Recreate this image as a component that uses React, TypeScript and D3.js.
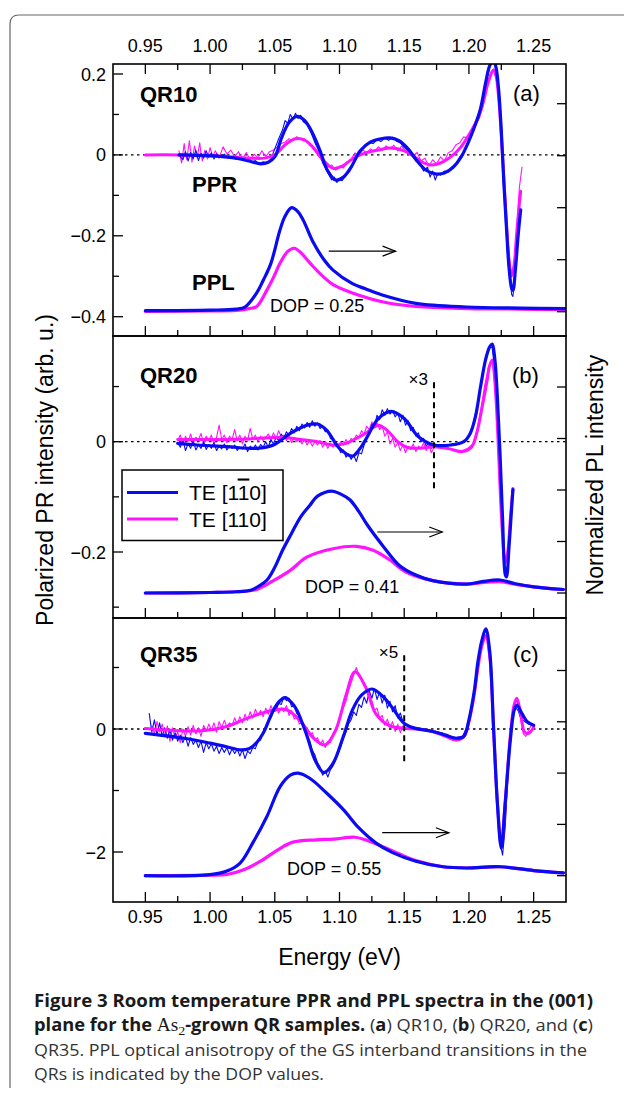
import React from "react";
import * as d3 from "d3";

type P = [number, number];

// ---------- axis ticks ----------
const X_MAJOR = [0.95, 1.0, 1.05, 1.1, 1.15, 1.2, 1.25];
const X_LABELS = ["0.95", "1.00", "1.05", "1.10", "1.15", "1.20", "1.25"];
const X_MINOR = [0.975, 1.025, 1.075, 1.125, 1.175, 1.225];

const A_MAJOR = [0.2, 0, -0.2, -0.4];
const A_LABELS = ["0.2", "0", "\u22120.2", "\u22120.4"];
const A_MINOR = [0.1, -0.1, -0.3];
const B_MAJOR = [0, -0.2];
const B_LABELS = ["0", "\u22120.2"];
const B_MINOR = [0.1, -0.1, -0.3];
const C_MAJOR = [0, -2];
const C_LABELS = ["0", "\u22122"];
const C_MINOR = [1, -1];
const PL_TICKS = [0, 0.5, 1, 1.5, 2];

// ---------- panel (a) QR10 ----------
const A_PPR_BLUE_RAW: P[] = [
  [0.976,0.000],[0.979,-0.012],[0.981,0.008],[0.983,-0.015],[0.985,0.006],[0.987,-0.010],[0.989,0.012],[0.991,-0.014],
  [0.993,0.004],[0.995,-0.008],[0.997,0.010],[0.999,-0.006],[1.001,0.005],[1.003,-0.010],[1.005,0.003],[1.008,-0.006],
  [1.011,0.002],[1.014,-0.008],[1.017,-0.003],[1.020,-0.011],[1.023,-0.006],[1.026,-0.013],[1.029,-0.010],[1.032,-0.018],
  [1.035,-0.014],[1.038,-0.022],[1.041,-0.017],[1.044,-0.020],[1.047,-0.010],[1.050,0.015],[1.053,0.040],[1.056,0.062],
  [1.058,0.085],[1.060,0.078],[1.062,0.100],[1.064,0.088],[1.066,0.103],[1.068,0.090],[1.070,0.098],[1.072,0.082],
  [1.075,0.075],[1.078,0.055],[1.081,0.030],[1.084,0.010],[1.087,-0.020],[1.090,-0.038],[1.092,-0.050],[1.094,-0.062],
  [1.096,-0.055],[1.098,-0.068],[1.100,-0.060],[1.102,-0.064],[1.105,-0.050],[1.108,-0.040],[1.111,-0.020],[1.114,-0.005],
  [1.117,0.012],[1.120,0.020],[1.123,0.030],[1.126,0.028],[1.129,0.038],[1.132,0.033],[1.135,0.042],[1.138,0.036],
  [1.141,0.044],[1.144,0.034],[1.147,0.030],[1.150,0.018],[1.153,0.010],[1.156,-0.002],[1.159,-0.015],[1.162,-0.022],
  [1.165,-0.040],[1.168,-0.030],[1.170,-0.055],[1.172,-0.040],[1.174,-0.062],[1.176,-0.045],[1.178,-0.050],[1.181,-0.040],
  [1.184,-0.042],[1.187,-0.030],[1.190,-0.022],[1.193,-0.005],[1.196,0.008],[1.199,0.028],[1.202,0.048],[1.205,0.072],
  [1.208,0.095],[1.211,0.130],[1.214,0.190],[1.217,0.228],[1.219,0.232],[1.221,0.210],[1.223,0.160],[1.225,0.070],
  [1.227,-0.040],[1.229,-0.160],[1.231,-0.270],[1.233,-0.345],[1.234,-0.350],[1.236,-0.280],[1.238,-0.200],[1.240,-0.140],
];
const A_PPR_PINK_RAW: P[] = [
  [0.976,0.010],[0.978,-0.020],[0.980,0.028],[0.981,0.002],[0.982,-0.012],[0.984,0.035],[0.985,0.010],[0.986,-0.018],[0.988,0.022],[0.990,-0.008],
  [0.992,0.030],[0.993,0.004],[0.994,-0.015],[0.996,0.012],[0.998,-0.010],[1.000,0.018],[1.002,-0.004],[1.004,0.010],[1.007,-0.008],
  [1.010,0.020],[1.013,0.002],[1.016,0.012],[1.019,-0.005],[1.022,0.008],[1.025,-0.010],[1.028,0.006],[1.031,-0.012],
  [1.034,0.002],[1.037,-0.008],[1.040,0.010],[1.043,-0.004],[1.046,0.008],[1.049,0.012],[1.052,0.020],[1.055,0.028],
  [1.058,0.032],[1.061,0.040],[1.064,0.035],[1.067,0.045],[1.070,0.038],[1.073,0.040],[1.076,0.028],[1.079,0.018],
  [1.082,0.005],[1.085,-0.008],[1.088,-0.020],[1.091,-0.030],[1.094,-0.025],[1.097,-0.038],[1.100,-0.030],[1.103,-0.032],
  [1.106,-0.018],[1.109,-0.010],[1.112,0.005],[1.115,-0.002],[1.118,0.012],[1.121,0.005],[1.124,0.015],[1.127,0.008],
  [1.130,0.020],[1.133,0.012],[1.136,0.022],[1.139,0.015],[1.142,0.024],[1.145,0.010],[1.148,0.022],[1.151,0.008],
  [1.154,0.015],[1.157,-0.002],[1.160,0.006],[1.163,-0.015],[1.166,-0.008],[1.169,-0.028],[1.172,-0.012],[1.175,-0.022],
  [1.178,-0.005],[1.181,-0.015],[1.184,0.005],[1.187,0.010],[1.190,0.025],[1.193,0.030],[1.196,0.045],[1.199,0.040],
  [1.202,0.062],[1.205,0.075],[1.208,0.090],[1.211,0.120],[1.214,0.170],[1.217,0.205],[1.219,0.212],[1.221,0.190],
  [1.223,0.140],[1.225,0.060],[1.227,-0.050],[1.229,-0.160],[1.231,-0.250],[1.233,-0.300],[1.235,-0.270],[1.237,-0.180],
  [1.239,-0.080],[1.241,-0.030],
];
const A_PPR_BLUE_FIT: P[] = [
  [0.976,0],[0.99,-0.001],[1.005,-0.003],[1.02,-0.008],[1.03,-0.015],[1.039,-0.022],[1.045,-0.018],[1.05,-0.005],
  [1.055,0.04],[1.061,0.08],[1.067,0.095],[1.073,0.085],[1.079,0.055],[1.085,0.01],[1.091,-0.04],[1.097,-0.062],
  [1.103,-0.055],[1.109,-0.03],[1.116,0.01],[1.124,0.032],[1.132,0.04],[1.139,0.042],[1.146,0.035],[1.153,0.015],
  [1.16,-0.015],[1.167,-0.038],[1.174,-0.047],[1.181,-0.045],[1.188,-0.03],[1.194,-0.005],[1.2,0.035],[1.205,0.075],
  [1.209,0.115],[1.213,0.18],[1.216,0.22],[1.219,0.235],[1.221,0.215],[1.223,0.16],[1.225,0.06],[1.227,-0.07],
  [1.229,-0.18],[1.231,-0.28],[1.233,-0.33],[1.234,-0.335],[1.236,-0.28],[1.238,-0.2],[1.24,-0.136],
];
const A_PPR_PINK_FIT: P[] = [
  [0.95,0],[0.976,0],[0.99,-0.001],[1.01,-0.004],[1.03,-0.008],[1.042,-0.008],[1.05,0.0],[1.058,0.025],[1.066,0.04],
  [1.074,0.035],[1.082,0.01],[1.088,-0.015],[1.095,-0.033],[1.102,-0.028],[1.11,-0.01],[1.12,0.005],[1.13,0.012],
  [1.14,0.017],[1.15,0.01],[1.158,-0.005],[1.165,-0.02],[1.171,-0.025],[1.178,-0.02],[1.186,-0.005],[1.194,0.02],
  [1.2,0.05],[1.206,0.085],[1.211,0.13],[1.215,0.18],[1.219,0.21],[1.221,0.195],[1.223,0.14],[1.225,0.05],
  [1.227,-0.06],[1.229,-0.17],[1.231,-0.26],[1.233,-0.3],[1.235,-0.27],[1.237,-0.19],[1.239,-0.12],[1.24,-0.09],
];
const A_PL_BLUE: P[] = [
  [0.95,0.01],[1.0,0.015],[1.02,0.025],[1.027,0.045],[1.036,0.18],[1.041,0.3],[1.047,0.465],[1.054,0.785],
  [1.058,0.92],[1.063,1.0],[1.068,0.96],[1.072,0.88],[1.08,0.66],[1.088,0.5],[1.095,0.4],[1.11,0.27],[1.12,0.22],
  [1.133,0.16],[1.159,0.08],[1.198,0.045],[1.24,0.035],[1.275,0.03],
];
const A_PL_PINK: P[] = [
  [0.95,0.004],[1.0,0.008],[1.02,0.012],[1.03,0.03],[1.036,0.05],[1.044,0.21],[1.049,0.33],[1.054,0.465],
  [1.06,0.58],[1.065,0.61],[1.07,0.57],[1.075,0.5],[1.08,0.43],[1.088,0.33],[1.095,0.26],[1.11,0.18],
  [1.133,0.096],[1.159,0.05],[1.2,0.03],[1.24,0.025],[1.275,0.02],
];

// ---------- panel (b) QR20 ----------
const B_PPR_BLUE_RAW: P[] = [
  [0.975,-0.002],[0.977,-0.010],[0.979,0.004],[0.981,-0.016],[0.983,-0.004],[0.985,-0.012],[0.987,0.002],[0.989,-0.015],
  [0.991,-0.006],[0.993,-0.012],[0.995,0.000],[0.997,-0.014],[0.999,-0.005],[1.001,-0.012],[1.003,-0.002],[1.005,-0.016],
  [1.007,-0.008],[1.009,-0.013],[1.011,-0.004],[1.013,-0.015],[1.015,-0.008],[1.017,-0.012],[1.019,-0.006],[1.021,-0.016],
  [1.023,-0.010],[1.025,-0.013],[1.027,-0.004],[1.029,-0.018],[1.031,-0.008],[1.033,-0.014],[1.035,-0.006],[1.037,-0.015],
  [1.039,-0.005],[1.041,-0.010],[1.043,0.000],[1.045,-0.010],[1.047,0.004],[1.049,-0.004],[1.051,0.008],[1.053,0.002],
  [1.055,0.014],[1.057,0.006],[1.059,0.018],[1.061,0.012],[1.063,0.024],[1.065,0.016],[1.067,0.028],[1.069,0.020],
  [1.071,0.032],[1.073,0.025],[1.075,0.035],[1.077,0.026],[1.079,0.038],[1.081,0.028],[1.083,0.034],[1.085,0.024],
  [1.087,0.028],[1.089,0.018],[1.091,0.020],[1.093,0.006],[1.095,0.004],[1.097,-0.008],[1.099,-0.010],[1.101,-0.020],
  [1.103,-0.015],[1.105,-0.028],[1.107,-0.022],[1.109,-0.032],[1.111,-0.024],[1.113,-0.036],[1.115,-0.020],[1.117,-0.022],
  [1.119,-0.006],[1.121,0.005],[1.123,0.015],[1.125,0.032],[1.127,0.028],[1.129,0.048],[1.131,0.040],[1.133,0.058],
  [1.135,0.048],[1.137,0.060],[1.139,0.050],[1.141,0.056],[1.143,0.045],[1.145,0.052],[1.147,0.036],[1.149,0.048],
  [1.151,0.030],[1.153,0.038],[1.155,0.020],[1.157,0.026],[1.159,0.010],[1.161,0.016],[1.163,0.000],[1.165,0.006],
  [1.167,-0.008],[1.169,-0.002],[1.171,-0.012],[1.173,-0.004],[1.176,-0.006],[1.180,-0.008],[1.185,-0.007],[1.190,-0.006],
  [1.195,-0.002],[1.199,0.006],[1.203,0.030],[1.207,0.072],[1.210,0.118],[1.213,0.155],[1.216,0.172],[1.218,0.170],
  [1.220,0.130],[1.222,0.060],[1.224,-0.050],[1.226,-0.150],[1.228,-0.235],[1.230,-0.225],[1.232,-0.160],[1.234,-0.090],
];
const B_PPR_PINK_RAW: P[] = [
  [0.975,0.002],[0.977,0.012],[0.979,-0.006],[0.981,0.010],[0.983,0.000],[0.985,0.014],[0.987,-0.002],[0.989,0.008],
  [0.991,0.004],[0.993,0.015],[0.995,-0.004],[0.997,0.010],[0.999,0.002],[1.001,0.012],[1.003,-0.004],[1.005,0.008],
  [1.007,0.030],[1.009,0.004],[1.011,0.012],[1.013,-0.002],[1.015,0.010],[1.017,0.004],[1.019,0.022],[1.021,0.002],
  [1.023,0.012],[1.025,-0.004],[1.027,0.010],[1.029,0.003],[1.031,0.024],[1.033,0.004],[1.035,0.012],[1.037,0.000],
  [1.039,0.010],[1.041,0.002],[1.043,0.008],[1.045,0.014],[1.047,0.004],[1.049,0.016],[1.051,0.006],[1.053,0.020],
  [1.055,0.008],[1.057,0.012],[1.059,0.002],[1.061,0.010],[1.063,-0.002],[1.065,0.008],[1.067,0.000],[1.069,0.006],
  [1.071,-0.004],[1.073,0.004],[1.075,-0.006],[1.077,0.002],[1.079,-0.008],[1.081,0.000],[1.083,-0.006],[1.085,0.002],
  [1.087,-0.010],[1.089,-0.002],[1.091,-0.012],[1.093,-0.004],[1.095,-0.010],[1.097,-0.002],[1.099,-0.008],[1.101,0.000],
  [1.103,-0.006],[1.105,0.004],[1.107,-0.004],[1.109,0.006],[1.111,0.002],[1.113,0.012],[1.115,0.008],[1.117,0.020],
  [1.119,0.014],[1.121,0.028],[1.123,0.022],[1.125,0.036],[1.127,0.026],[1.129,0.034],[1.131,0.022],[1.133,0.028],
  [1.135,0.010],[1.137,0.018],[1.139,-0.004],[1.141,0.006],[1.143,-0.010],[1.145,-0.002],[1.147,-0.016],[1.149,-0.006],
  [1.151,-0.020],[1.153,-0.008],[1.155,-0.014],[1.157,-0.004],[1.159,-0.018],[1.161,-0.008],[1.163,-0.012],[1.165,-0.002],
  [1.167,-0.016],[1.169,-0.006],[1.171,-0.020],[1.173,-0.010],[1.177,-0.008],[1.181,-0.010],[1.186,-0.014],[1.190,-0.016],
  [1.195,-0.016],[1.199,-0.012],[1.203,-0.004],[1.206,0.020],[1.209,0.055],[1.212,0.100],[1.215,0.135],[1.218,0.148],
  [1.220,0.110],[1.222,0.030],[1.224,-0.080],[1.226,-0.170],[1.228,-0.220],[1.230,-0.200],[1.232,-0.140],[1.234,-0.085],
];
const B_PPR_BLUE_FIT: P[] = [
  [0.975,-0.003],[0.99,-0.006],[1.013,-0.009],[1.036,-0.012],[1.049,-0.006],[1.062,0.015],[1.075,0.03],[1.083,0.032],
  [1.09,0.021],[1.1,-0.012],[1.11,-0.026],[1.115,-0.015],[1.12,0.003],[1.13,0.042],[1.14,0.055],[1.15,0.042],
  [1.161,0.009],[1.173,-0.006],[1.186,-0.006],[1.196,0.0],[1.201,0.015],[1.205,0.045],[1.209,0.1],[1.213,0.15],
  [1.216,0.172],[1.218,0.177],[1.22,0.15],[1.222,0.08],[1.224,-0.02],[1.226,-0.14],[1.228,-0.24],[1.229,-0.245],
  [1.231,-0.19],[1.233,-0.12],[1.234,-0.087],
];
const B_PPR_PINK_FIT: P[] = [
  [0.975,0.004],[1.0,0.004],[1.03,0.005],[1.056,0.008],[1.07,0.004],[1.083,0.0],[1.095,-0.006],[1.105,-0.003],
  [1.113,0.006],[1.12,0.015],[1.13,0.03],[1.137,0.02],[1.145,0.0],[1.152,-0.01],[1.162,-0.012],[1.173,-0.009],
  [1.185,-0.013],[1.195,-0.018],[1.202,-0.01],[1.206,0.015],[1.21,0.06],[1.214,0.11],[1.216,0.138],[1.218,0.148],
  [1.22,0.11],[1.222,0.03],[1.224,-0.08],[1.226,-0.17],[1.228,-0.22],[1.23,-0.2],[1.232,-0.14],[1.234,-0.085],
];
const B_PL_BLUE: P[] = [
  [0.95,0],[1.0,0.005],[1.02,0.012],[1.032,0.03],[1.038,0.07],[1.044,0.126],[1.05,0.25],[1.056,0.415],[1.063,0.58],
  [1.07,0.74],[1.077,0.85],[1.083,0.94],[1.094,0.99],[1.101,0.96],[1.108,0.905],[1.115,0.79],[1.121,0.67],[1.134,0.45],
  [1.146,0.27],[1.159,0.174],[1.172,0.12],[1.198,0.087],[1.21,0.11],[1.224,0.126],[1.236,0.09],[1.25,0.06],[1.273,0.034],
];
const B_PL_PINK: P[] = [
  [0.95,0],[1.0,0.005],[1.02,0.012],[1.036,0.034],[1.049,0.12],[1.062,0.22],[1.075,0.35],[1.095,0.43],[1.113,0.453],
  [1.126,0.415],[1.139,0.32],[1.151,0.206],[1.172,0.12],[1.198,0.087],[1.21,0.1],[1.224,0.11],[1.236,0.085],
  [1.25,0.06],[1.273,0.034],
];

// ---------- panel (c) QR35 ----------
const C_PPR_BLUE_RAW: P[] = [
  [0.953,0.25],[0.955,-0.05],[0.957,0.15],[0.959,-0.10],[0.961,0.10],[0.963,-0.12],[0.965,0.02],[0.967,-0.15],
  [0.969,-0.02],[0.971,-0.18],[0.973,-0.06],[0.975,-0.20],[0.977,-0.10],[0.979,-0.22],[0.981,-0.12],[0.983,-0.28],
  [0.985,-0.14],[0.987,-0.25],[0.989,-0.18],[0.991,-0.30],[0.993,-0.20],[0.995,-0.38],[0.997,-0.22],[0.999,-0.32],
  [1.001,-0.24],[1.003,-0.36],[1.005,-0.28],[1.007,-0.40],[1.009,-0.30],[1.011,-0.38],[1.013,-0.30],[1.015,-0.42],
  [1.017,-0.32],[1.019,-0.40],[1.021,-0.33],[1.023,-0.44],[1.025,-0.34],[1.027,-0.48],[1.029,-0.36],[1.031,-0.40],
  [1.033,-0.30],[1.035,-0.32],[1.037,-0.20],[1.039,-0.18],[1.041,-0.05],[1.043,0.00],[1.045,0.12],[1.047,0.18],
  [1.049,0.28],[1.051,0.30],[1.053,0.42],[1.055,0.40],[1.057,0.52],[1.059,0.46],[1.061,0.50],[1.063,0.36],
  [1.065,0.38],[1.067,0.25],[1.069,0.22],[1.071,0.08],[1.073,0.02],[1.075,-0.12],[1.077,-0.20],[1.079,-0.35],
  [1.081,-0.42],[1.083,-0.55],[1.085,-0.62],[1.087,-0.75],[1.089,-0.68],[1.091,-0.78],[1.093,-0.66],[1.095,-0.60],
  [1.097,-0.50],[1.099,-0.40],[1.101,-0.28],[1.103,-0.15],[1.105,-0.05],[1.107,0.08],[1.109,0.15],[1.111,0.28],
  [1.113,0.22],[1.115,0.40],[1.117,0.35],[1.119,0.52],[1.121,0.42],[1.123,0.62],[1.125,0.50],[1.127,0.66],
  [1.129,0.48],[1.131,0.60],[1.133,0.42],[1.135,0.55],[1.137,0.34],[1.139,0.45],[1.141,0.28],[1.143,0.38],
  [1.145,0.18],[1.147,0.26],[1.149,0.12],[1.150,0.10],[1.155,0.04],[1.160,0.02],[1.165,0.00],[1.170,-0.02],
  [1.175,-0.04],[1.180,-0.07],[1.185,-0.12],[1.190,-0.14],[1.195,-0.12],[1.200,0.10],[1.203,0.40],[1.206,0.85],
  [1.209,1.35],[1.212,1.60],[1.214,1.55],[1.216,1.20],[1.218,0.50],[1.220,-0.40],[1.222,-1.20],[1.224,-1.85],
  [1.226,-2.05],[1.228,-1.60],[1.230,-0.80],[1.232,-0.20],[1.234,0.20],[1.236,0.35],[1.238,0.30],[1.240,0.18],
  [1.243,0.12],[1.246,0.08],[1.250,0.05],
];
const C_PPR_PINK_RAW: P[] = [
  [0.955,0.05],[0.957,-0.08],[0.959,0.12],[0.961,-0.05],[0.963,0.08],[0.965,-0.12],[0.967,0.05],[0.969,-0.20],
  [0.971,0.02],[0.973,-0.15],[0.975,-0.05],[0.977,-0.22],[0.979,0.00],[0.981,-0.12],[0.983,0.04],[0.985,-0.10],
  [0.987,0.06],[0.989,-0.08],[0.991,0.02],[0.993,-0.12],[0.995,0.06],[0.997,-0.04],[0.999,0.08],[1.001,-0.02],
  [1.003,0.10],[1.005,-0.05],[1.007,0.12],[1.009,0.02],[1.011,0.14],[1.013,0.04],[1.015,0.10],[1.017,0.06],
  [1.019,0.18],[1.021,0.08],[1.023,0.20],[1.025,0.10],[1.027,0.24],[1.029,0.14],[1.031,0.28],[1.033,0.18],
  [1.035,0.32],[1.037,0.22],[1.039,0.30],[1.041,0.20],[1.043,0.34],[1.045,0.24],[1.047,0.38],[1.049,0.28],
  [1.051,0.36],[1.053,0.26],[1.055,0.34],[1.057,0.28],[1.059,0.38],[1.061,0.22],[1.063,0.30],[1.065,0.16],
  [1.067,0.20],[1.069,0.08],[1.071,0.12],[1.073,-0.02],[1.075,0.02],[1.077,-0.10],[1.079,-0.06],[1.081,-0.18],
  [1.083,-0.14],[1.085,-0.26],[1.087,-0.18],[1.089,-0.30],[1.091,-0.20],[1.093,-0.22],[1.095,-0.10],[1.097,-0.04],
  [1.099,0.10],[1.101,0.20],[1.103,0.35],[1.105,0.45],[1.107,0.62],[1.109,0.75],[1.111,0.88],[1.113,1.00],
  [1.115,0.86],[1.117,0.82],[1.119,0.70],[1.121,0.66],[1.123,0.50],[1.125,0.46],[1.127,0.30],[1.129,0.34],
  [1.131,0.18],[1.133,0.22],[1.135,0.06],[1.137,0.16],[1.139,0.02],[1.141,0.12],[1.143,-0.04],[1.145,0.08],
  [1.147,-0.06],[1.149,0.05],[1.150,0.00],[1.155,0.02],[1.160,0.00],[1.165,-0.02],[1.170,-0.03],[1.175,-0.05],
  [1.180,-0.10],[1.185,-0.16],[1.190,-0.18],[1.195,-0.14],[1.200,0.08],[1.203,0.38],[1.206,0.80],[1.209,1.25],
  [1.212,1.50],[1.214,1.45],[1.216,1.10],[1.218,0.40],[1.220,-0.45],[1.222,-1.20],[1.224,-1.80],[1.226,-1.90],
  [1.228,-1.50],[1.230,-0.75],[1.232,-0.10],[1.234,0.30],[1.236,0.48],[1.238,0.40],[1.240,0.15],[1.242,-0.08],
  [1.244,-0.12],[1.246,-0.02],[1.248,0.05],
];
const C_PPR_BLUE_FIT: P[] = [
  [0.95,-0.07],[0.98,-0.15],[1.0,-0.23],[1.015,-0.3],[1.023,-0.34],[1.03,-0.32],[1.036,-0.22],[1.041,-0.07],
  [1.049,0.31],[1.054,0.46],[1.058,0.51],[1.063,0.43],[1.067,0.31],[1.075,-0.12],[1.081,-0.5],[1.088,-0.71],
  [1.095,-0.56],[1.103,-0.12],[1.11,0.31],[1.117,0.55],[1.125,0.65],[1.134,0.52],[1.141,0.34],[1.15,0.09],
  [1.159,0.01],[1.172,-0.04],[1.182,-0.1],[1.19,-0.15],[1.196,-0.12],[1.2,0.15],[1.204,0.6],[1.207,1.1],
  [1.21,1.44],[1.213,1.63],[1.216,1.28],[1.219,0.04],[1.222,-1.21],[1.225,-1.94],[1.228,-1.21],[1.232,-0.18],
  [1.235,0.31],[1.237,0.39],[1.241,0.25],[1.245,0.12],[1.25,0.06],
];
const C_PPR_PINK_FIT: P[] = [
  [0.95,0.01],[0.993,-0.03],[1.013,0.04],[1.028,0.17],[1.044,0.28],[1.058,0.32],[1.069,0.15],[1.08,-0.15],
  [1.089,-0.26],[1.097,-0.02],[1.105,0.55],[1.112,0.93],[1.12,0.69],[1.128,0.25],[1.138,0.06],[1.15,0.01],
  [1.159,0.0],[1.172,-0.04],[1.182,-0.12],[1.19,-0.18],[1.196,-0.13],[1.2,0.12],[1.204,0.55],[1.207,1.0],
  [1.21,1.35],[1.213,1.52],[1.216,1.2],[1.219,0.0],[1.222,-1.2],[1.225,-1.9],[1.228,-1.2],[1.232,-0.1],
  [1.235,0.4],[1.237,0.5],[1.24,0.25],[1.243,-0.05],[1.246,-0.07],[1.25,0.03],
];
const C_PL_BLUE: P[] = [
  [0.95,0],[1.0,0.01],[1.013,0.045],[1.023,0.12],[1.033,0.32],[1.044,0.58],[1.054,0.866],[1.062,0.98],[1.068,1.0],
  [1.077,0.95],[1.09,0.806],[1.103,0.644],[1.115,0.465],[1.128,0.32],[1.141,0.225],[1.159,0.141],[1.18,0.087],
  [1.198,0.075],[1.224,0.087],[1.25,0.05],[1.273,0.027],
];
const C_PL_PINK: P[] = [
  [0.95,0],[1.0,0.005],[1.013,0.012],[1.026,0.058],[1.039,0.141],[1.052,0.25],[1.064,0.327],[1.082,0.35],
  [1.095,0.356],[1.112,0.375],[1.12,0.35],[1.134,0.28],[1.146,0.213],[1.159,0.147],[1.18,0.087],[1.198,0.075],
  [1.224,0.087],[1.25,0.05],[1.273,0.027],
];

const BLUE = "#0b0bf2";
const PINK = "#ff14ff";
const FONT = "'Liberation Sans', Arial, Helvetica, sans-serif";

const X0 = 113, X1 = 566;
const x = d3.scaleLinear().domain([0.925, 1.275]).range([X0, X1]);

type PanelDef = {
  top: number; bottom: number;
  y: d3.ScaleLinear<number, number>; pl: d3.ScaleLinear<number, number>;
  major: number[]; labels: string[]; minor: number[];
  blueRaw: P[]; pinkRaw: P[]; blueFit: P[]; pinkFit: P[]; plBlue: P[]; plPink: P[];
  name: string; tag: string; dop: string;
  arrow: [number, number, number];
  scaleMark?: [string, number, number, number];
};

const panels: PanelDef[] = [
  {
    top: 64, bottom: 336,
    y: d3.scaleLinear().domain([0.2, -0.4]).range([74, 316.7]),
    pl: d3.scaleLinear().domain([0, 1]).range([311.7, 207.7]),
    major: A_MAJOR, labels: A_LABELS, minor: A_MINOR,
    blueRaw: A_PPR_BLUE_RAW, pinkRaw: A_PPR_PINK_RAW, blueFit: A_PPR_BLUE_FIT, pinkFit: A_PPR_PINK_FIT,
    plBlue: A_PL_BLUE, plPink: A_PL_PINK, name: "QR10", tag: "(a)", dop: "DOP = 0.25",
    arrow: [1.0917, 1.1433, -0.238],
  },
  {
    top: 336, bottom: 618,
    y: d3.scaleLinear().domain([0, -0.2]).range([441.7, 552]),
    pl: d3.scaleLinear().domain([0, 1]).range([593, 490]),
    major: B_MAJOR, labels: B_LABELS, minor: B_MINOR,
    blueRaw: B_PPR_BLUE_RAW, pinkRaw: B_PPR_PINK_RAW, blueFit: B_PPR_BLUE_FIT, pinkFit: B_PPR_PINK_FIT,
    plBlue: B_PL_BLUE, plPink: B_PL_PINK, name: "QR20", tag: "(b)", dop: "DOP = 0.41",
    arrow: [1.1292, 1.1794, -0.1637],
    scaleMark: ["\u00d73", 1.173, 0.108, -0.087],
  },
  {
    top: 618, bottom: 902,
    y: d3.scaleLinear().domain([0, -2]).range([729, 852]),
    pl: d3.scaleLinear().domain([0, 1]).range([875.7, 773.1]),
    major: C_MAJOR, labels: C_LABELS, minor: C_MINOR,
    blueRaw: C_PPR_BLUE_RAW, pinkRaw: C_PPR_PINK_RAW, blueFit: C_PPR_BLUE_FIT, pinkFit: C_PPR_PINK_FIT,
    plBlue: C_PL_BLUE, plPink: C_PL_PINK, name: "QR35", tag: "(c)", dop: "DOP = 0.55",
    arrow: [1.133, 1.1845, -1.686],
    scaleMark: ["\u00d75", 1.15, 1.2, -0.55],
  },
];

const TEXT_POS = [
  { name: [140, 102], tag: [513, 101], dop: [270, 312], extra: true },
  { name: [140, 383], tag: [512, 383], dop: [305, 593], extra: false },
  { name: [140, 662], tag: [513, 662], dop: [287, 875], extra: false },
];

function Panel({ p, i }: { p: PanelDef; i: number }) {
  const thin = d3.line<P>().x((d) => x(d[0])).y((d) => p.y(d[1]));
  const fit = d3.line<P>().x((d) => x(d[0])).y((d) => p.y(d[1])).curve(d3.curveCatmullRom.alpha(0.5));
  const plLine = d3.line<P>().x((d) => x(d[0])).y((d) => p.pl(d[1])).curve(d3.curveCatmullRom.alpha(0.5));
  const tp = TEXT_POS[i];
  const [a0, a1, av] = p.arrow;
  const ay = p.y(av);
  const clipId = `clip${i}`;
  return (
    <g>
      <defs>
        <clipPath id={clipId}>
          <rect x={X0} y={p.top} width={X1 - X0} height={p.bottom - p.top} />
        </clipPath>
      </defs>
      <line x1={X0} x2={X1} y1={p.y(0)} y2={p.y(0)} stroke="#000" strokeWidth={1.3} strokeDasharray="2.5,3.5" />
      <g clipPath={`url(#${clipId})`} fill="none" strokeLinejoin="round" strokeLinecap="round">
        <path d={plLine(p.plPink) || ""} stroke={PINK} strokeWidth={3.2} />
        <path d={plLine(p.plBlue) || ""} stroke={BLUE} strokeWidth={3.2} />
        <path d={thin(p.pinkRaw) || ""} stroke={PINK} strokeWidth={1.1} />
        <path d={thin(p.blueRaw) || ""} stroke={BLUE} strokeWidth={1.1} />
        <path d={fit(p.pinkFit) || ""} stroke={PINK} strokeWidth={3} />
        <path d={fit(p.blueFit) || ""} stroke={BLUE} strokeWidth={3.2} />
      </g>
      <rect x={X0} y={p.top} width={X1 - X0} height={p.bottom - p.top} fill="none" stroke="#000" strokeWidth={1.6} />
      {p.major.map((v, k) => (
        <g key={"lm" + k}>
          <line x1={X0} x2={X0 + 10} y1={p.y(v)} y2={p.y(v)} stroke="#000" strokeWidth={1.3} />
          <text x={X0 - 7} y={p.y(v) + 6.5} textAnchor="end" fontSize={18} fontFamily={FONT}>{p.labels[k]}</text>
        </g>
      ))}
      {p.minor.map((v, k) => (
        <line key={"ln" + k} x1={X0} x2={X0 + 6} y1={p.y(v)} y2={p.y(v)} stroke="#000" strokeWidth={1.3} />
      ))}
      {PL_TICKS.filter((v) => p.pl(v) > p.top + 2 && p.pl(v) < p.bottom - 2).map((v, k) => (
        <line key={"r" + k} x1={X1} x2={X1 - 9} y1={p.pl(v)} y2={p.pl(v)} stroke="#000" strokeWidth={1.3} />
      ))}
      {X_MAJOR.map((v, k) => (
        <line key={"bm" + k} x1={x(v)} x2={x(v)} y1={p.bottom} y2={p.bottom - 10} stroke="#000" strokeWidth={1.3} />
      ))}
      {X_MINOR.map((v, k) => (
        <line key={"bn" + k} x1={x(v)} x2={x(v)} y1={p.bottom} y2={p.bottom - 6} stroke="#000" strokeWidth={1.3} />
      ))}
      <g stroke="#000" strokeWidth={1.2} fill="none">
        <line x1={x(a0)} x2={x(a1)} y1={ay} y2={ay} />
        <polyline points={`${x(a1) - 13},${ay - 5} ${x(a1)},${ay} ${x(a1) - 13},${ay + 5}`} />
      </g>
      {p.scaleMark && (
        <g>
          <line x1={x(p.scaleMark[1])} x2={x(p.scaleMark[1])} y1={p.y(p.scaleMark[2])} y2={p.y(p.scaleMark[3])}
            stroke="#000" strokeWidth={2} strokeDasharray="6,4" />
          <text x={x(p.scaleMark[1]) - 6} y={p.y(p.scaleMark[2]) + 3} textAnchor="end" fontSize={17} fontFamily={FONT}>
            {p.scaleMark[0]}
          </text>
        </g>
      )}
      <text x={tp.name[0]} y={tp.name[1]} fontSize={22} fontWeight="bold" fontFamily={FONT}>{p.name}</text>
      <text x={tp.tag[0]} y={tp.tag[1]} fontSize={22} fontFamily={FONT}>{p.tag}</text>
      <text x={tp.dop[0]} y={tp.dop[1]} fontSize={18} fontFamily={FONT}>{p.dop}</text>
      {tp.extra && (
        <g>
          <text x={192} y={192} fontSize={22} fontWeight="bold" fontFamily={FONT}>PPR</text>
          <text x={192} y={290} fontSize={22} fontWeight="bold" fontFamily={FONT}>PPL</text>
        </g>
      )}
    </g>
  );
}

export default function App() {
  return (
    <svg width={624} height={1095} style={{ position: "absolute", left: 0, top: 0, background: "#fff" }}>
      <path d="M10,1088 V24 Q10,15 19,15 H624" fill="none" stroke="#666" strokeWidth={1.2} />
      {X_MAJOR.map((v, k) => (
        <g key={"tm" + k}>
          <line x1={x(v)} x2={x(v)} y1={64} y2={74} stroke="#000" strokeWidth={1.3} />
          <text x={x(v)} y={52} textAnchor="middle" fontSize={18} fontFamily={FONT}>{X_LABELS[k]}</text>
        </g>
      ))}
      {X_MINOR.map((v, k) => (
        <line key={"tn" + k} x1={x(v)} x2={x(v)} y1={64} y2={70} stroke="#000" strokeWidth={1.3} />
      ))}
      {panels.map((p, i) => <Panel key={i} p={p} i={i} />)}
      {X_MAJOR.map((v, k) => (
        <text key={"bl" + k} x={x(v)} y={923} textAnchor="middle" fontSize={18} fontFamily={FONT}>{X_LABELS[k]}</text>
      ))}
      <text x={(X0 + X1) / 2} y={965} textAnchor="middle" fontSize={23} fontFamily={FONT}>Energy (eV)</text>
      <text transform="translate(53,470) rotate(-90)" textAnchor="middle" fontSize={23} fontFamily={FONT}>
        Polarized PR intensity (arb. u.)
      </text>
      <text transform="translate(603,475) rotate(-90)" textAnchor="middle" fontSize={23} fontFamily={FONT}>
        Normalized PL intensity
      </text>
      <g>
        <rect x={122} y={470} width={161} height={70.5} fill="#fff" stroke="#000" strokeWidth={1.5} />
        <line x1={127} x2={178} y1={492.5} y2={492.5} stroke={BLUE} strokeWidth={3.2} />
        <line x1={127} x2={178} y1={519} y2={519} stroke={PINK} strokeWidth={3.2} />
        <text x={189} y={499.5} fontSize={21} fontFamily={FONT}>
          TE [1<tspan style={{ textDecoration: "overline" }}>1</tspan>0]
        </text>
        <text x={189} y={526.5} fontSize={21} fontFamily={FONT}>TE [110]</text>
      </g>
      <g fontFamily="'Open Sans', 'Noto Sans', sans-serif" fontSize={17}>
        <text x={34} y={1007} fontWeight="bold" fill="#1a1a1a" textLength={559} lengthAdjust="spacingAndGlyphs">
          Figure 3 Room temperature PPR and PPL spectra in the (001)
        </text>
        <text x={34} y={1031} fill="#333" textLength={559} lengthAdjust="spacingAndGlyphs">
          <tspan fontWeight="bold" fill="#1a1a1a">plane for the </tspan>
          <tspan fontFamily="'Liberation Serif', serif" fill="#1a1a1a" fontSize={18}>As</tspan>
          <tspan fontFamily="'Liberation Serif', serif" fill="#1a1a1a" fontSize={13} dy={4}>2</tspan>
          <tspan fontWeight="bold" fill="#1a1a1a" dy={-4}>-grown QR samples.</tspan>
          <tspan> (</tspan><tspan fontWeight="bold" fill="#1a1a1a">a</tspan>
          <tspan>) QR10, (</tspan><tspan fontWeight="bold" fill="#1a1a1a">b</tspan>
          <tspan>) QR20, and (</tspan><tspan fontWeight="bold" fill="#1a1a1a">c</tspan><tspan>)</tspan>
        </text>
        <text x={34} y={1056} fill="#333" textLength={553} lengthAdjust="spacingAndGlyphs">
          QR35. PPL optical anisotropy of the GS interband transitions in the
        </text>
        <text x={34} y={1080} fill="#333" textLength={290} lengthAdjust="spacingAndGlyphs">
          QRs is indicated by the DOP values.
        </text>
      </g>
    </svg>
  );
}
